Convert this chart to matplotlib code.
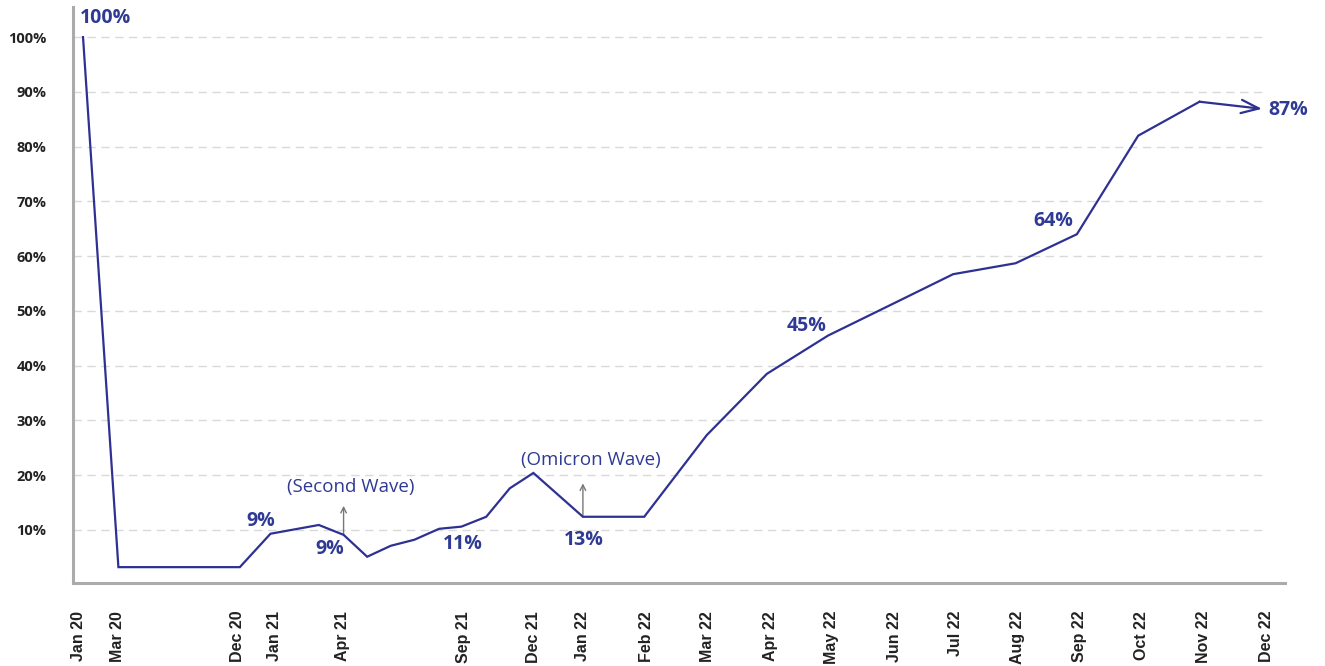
import matplotlib
matplotlib.use("Agg")
import matplotlib.pyplot as plt

# ---------------- data ----------------
# position along the (non-uniform) timeline, 0 = Jan 20, 100 = Dec 22
positions = [0.0, 3.0, 13.3, 15.9, 20.0, 22.1, 24.1, 26.1, 28.1, 30.2, 32.1,
             34.2, 36.2, 38.2, 42.4, 47.6, 52.9, 58.0, 63.2, 68.7, 73.8, 79.1,
             84.3, 89.5, 94.7, 100.0]
values = [100.0, 3.2, 3.2, 9.3, 10.9, 9.1, 5.1, 7.1, 8.2, 10.2, 10.6,
          12.4, 17.6, 20.4, 12.4, 12.4, 27.3, 38.5, 45.5, 51.3, 56.7, 58.7,
          64.0, 82.0, 88.2, 86.9]

tick_labels = ["Jan 20", "Mar 20", "Dec 20", "Jan 21", "Apr 21", "Sep 21",
               "Dec 21", "Jan 22", "Feb 22", "Mar 22", "Apr 22", "May 22",
               "Jun 22", "Jul 22", "Aug 22", "Sep 22", "Oct 22", "Nov 22",
               "Dec 22"]
tick_pos = [-0.4, 2.9, 13.1, 16.2, 22.0, 32.3, 38.2, 42.4, 47.8, 53.0, 58.3,
            63.5, 68.8, 74.0, 79.3, 84.5, 89.8, 95.0, 100.4]

y_ticks = [10, 20, 30, 40, 50, 60, 70, 80, 90, 100]
y_tick_labels = ["10%", "20%", "30%", "40%", "50%", "60%", "70%", "80%",
                 "90%", "100%"]

# value callouts: text, x, y
callouts = [("100%", 1.9, 103.5), ("9%", 15.1, 11.6), ("9%", 20.9, 6.6),
            ("11%", 32.2, 7.4), ("13%", 42.5, 8.2), ("45%", 61.4, 47.2),
            ("64%", 82.3, 66.4), ("87%", 102.2, 86.7)]

# wave notes: text, text x, text y, arrow x, arrow from y, arrow to y
waves = [("(Second Wave)", 22.7, 17.9, 22.1, 9.1, 14.4),
         ("(Omicron Wave)", 43.1, 22.7, 42.4, 12.4, 18.5)]

# ---------------- style ----------------
LINE = "#2e3192"
TXT = "#2f3a94"
SPINE = "#ababab"
GRID = "#d9d9d9"
FONT = "Open Sans"

fig = plt.figure(figsize=(13.25, 6.66), dpi=100)
ax = fig.add_axes([0.0551, 0.1246, 0.9147, 0.8649])
ax.set_xlim(-0.85, 101.95)
ax.set_ylim(0.3, 105.5)

for s in ["top", "right"]:
    ax.spines[s].set_visible(False)
for s in ["left", "bottom"]:
    ax.spines[s].set_color(SPINE)
    ax.spines[s].set_linewidth(2.2)

# gridlines up to Dec 22
ax.hlines(y_ticks, -0.85, positions[-1], colors=GRID, linewidth=1.0,
          linestyles=(0, (6, 4)), zorder=1)

# main line (last segment drawn as arrow)
ax.plot(positions[:-1], values[:-1], color=LINE, linewidth=1.6, zorder=3,
        solid_joinstyle="miter")
ax.annotate("", xy=(positions[-1], values[-1]),
            xytext=(positions[-2], values[-2]),
            arrowprops=dict(arrowstyle="->,head_length=0.85,head_width=0.32",
                            color=LINE, lw=1.6, shrinkA=0, shrinkB=0,
                            mutation_scale=15),
            zorder=3)

# callouts
for t, x, y in callouts:
    ax.text(x, y, t, ha="center", va="center", fontsize=14,
            fontweight="bold", fontstyle="normal", color=TXT, family=FONT,
            zorder=4)

# wave notes
for t, tx, ty, axp, y0, y1 in waves:
    ax.text(tx, ty, t, ha="center", va="center", fontsize=13.5,
            fontstyle="normal", color=TXT, family=FONT, zorder=4)
    ax.annotate("", xy=(axp, y1), xytext=(axp, y0),
                arrowprops=dict(arrowstyle="->,head_length=0.4,head_width=0.2",
                                color="#777777", lw=1.0, shrinkA=0, shrinkB=0,
                                mutation_scale=10),
                zorder=2)

# ticks
ax.set_yticks(y_ticks)
ax.set_yticklabels(y_tick_labels, fontsize=10.5, fontweight="bold",
                   fontstyle="normal", color="#222222", family=FONT)
ax.tick_params(axis="y", length=0, pad=19)

ax.set_xticks(tick_pos)
ax.set_xticklabels(tick_labels, rotation=90, fontsize=11.5, fontweight="bold",
                   color="#222222", family="Liberation Sans", ha="center",
                   va="top")
ax.tick_params(axis="x", length=0, pad=20)

fig.savefig("out.png", dpi=100)
